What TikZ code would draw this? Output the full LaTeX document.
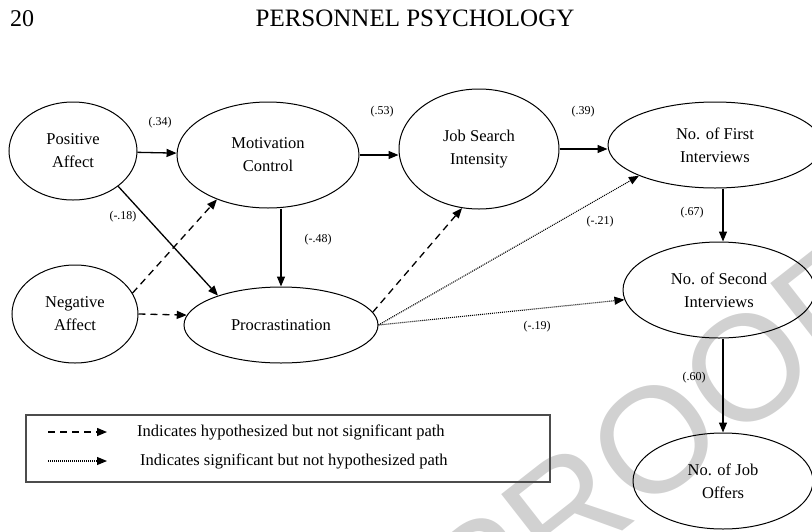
\documentclass[tikz,border=0pt]{standalone}
\usepackage{fontspec}
\setmainfont{Liberation Serif}
\newfontfamily\wmfont{Liberation Sans}
\usetikzlibrary{shapes.geometric,arrows.meta}

\begin{document}
\begin{tikzpicture}[x=1pt,y=-1pt,
  latent/.style={ellipse,draw,line width=1pt,inner sep=0pt,align=center,font=\fontsize{16.5}{23}\selectfont},
  coef/.style={inner sep=0pt,font=\fontsize{12}{14}\selectfont},
  sigpath/.style={line width=1.3pt,-{Triangle[length=10pt,width=8pt]}},
  nonsig/.style={sigpath,dash pattern=on 7pt off 5pt},
  unhyp/.style={sigpath,line width=1.1pt,dash pattern=on 1pt off 1pt}]
\useasboundingbox (0,0) rectangle (812,531);

% watermark
\begin{scope}
\clip (0,0) rectangle (812,531);
\node[rotate=38,text=black!18,inner sep=0pt,font=\wmfont\fontsize{150}{150}\selectfont] (proof) at (655,440) {PROOF};
\end{scope}

\node[anchor=base west,inner sep=0pt,font=\fontsize{24}{24}\selectfont] (pageno) at (10,26) {20};
\node[anchor=base,inner sep=0pt,font=\fontsize{25}{25}\selectfont] (journal) at (415,26) {PERSONNEL PSYCHOLOGY};

\node[latent,minimum width=128pt,minimum height=98pt] (pa) at (73,151) {Positive\\Affect};
\node[latent,minimum width=182pt,minimum height=106pt] (mc) at (268,155) {Motivation\\Control};
\node[latent,minimum width=160pt,minimum height=120pt] (jsi) at (479,149) {Job Search\\Intensity};
\node[latent,minimum width=214pt,minimum height=86pt] (fi) at (715,145) {No. of First\\Interviews};
\node[latent,minimum width=192pt,minimum height=96pt] (si) at (719,290) {No. of Second\\Interviews};
\node[latent,minimum width=180pt,minimum height=96pt] (jo) at (723,481) {No. of Job\\Offers};
\node[latent,minimum width=126pt,minimum height=98pt] (na) at (75,314) {Negative\\Affect};
\node[latent,minimum width=194pt,minimum height=76pt] (pr) at (281,325) {Procrastination};

\draw[sigpath] (pa) -- (mc);
\draw[sigpath] (mc.east) -- (mc.east -| jsi.west);
\draw[sigpath] (jsi.east) -- (jsi.east -| fi.west);
\draw[sigpath] (fi.south -| jo.north) -- (si.north -| jo.north);
\draw[sigpath] (si.south -| jo.north) -- (jo.north);
\draw[sigpath] (mc.south -| pr.north) -- (pr.north);
\draw[sigpath] (pa.-38) -- (pr.155);
\draw[nonsig] (na.20) -- (mc.221);
\draw[nonsig] (na.east) -- (pr.174);
\draw[nonsig] (pr.8) -- (jsi.254);
\draw[unhyp] (pr.east) -- (fi.202);
\draw[unhyp] (pr.east) -- (si);

\node[coef] (c34) at (160,123) {(.34)};
\node[coef] (c53) at (382,112) {(.53)};
\node[coef] (c39) at (583,112) {(.39)};
\node[coef] (c18) at (123,217) {(-.18)};
\node[coef] (c48) at (318,240) {(-.48)};
\node[coef] (c21) at (600,222) {(-.21)};
\node[coef] (c67) at (692,213) {(.67)};
\node[coef] (c19) at (537,327) {(-.19)};
\node[coef] (c60) at (694,378) {(.60)};

% legend
\node[draw=black!70,line width=1.2pt,minimum width=524pt,minimum height=67pt,inner sep=0pt] (legend) at (288,448.5) {};
\coordinate (d1) at (48,432); \coordinate (d2) at (107,432);
\coordinate (u1) at (48,461); \coordinate (u2) at (107,461);
\draw[nonsig] (d1) -- (d2);
\draw[unhyp] (u1) -- (u2);
\node[anchor=west,inner sep=0pt,font=\fontsize{16.5}{20}\selectfont] (t1) at (137,432) {Indicates hypothesized but not significant path};
\node[anchor=west,inner sep=0pt,font=\fontsize{16.5}{20}\selectfont] (t2) at (140,461) {Indicates significant but not hypothesized path};

\end{tikzpicture}
\end{document}
